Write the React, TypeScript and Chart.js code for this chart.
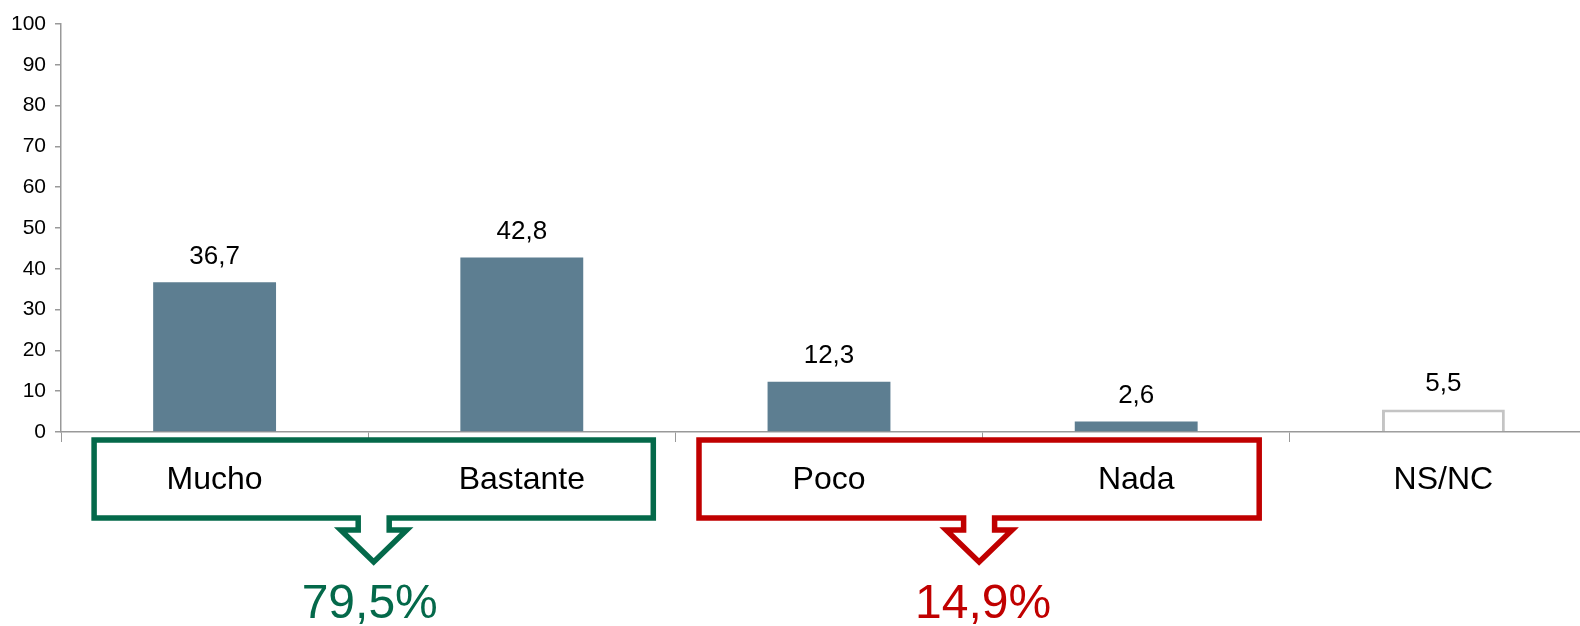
import React, { useEffect, useRef } from "react";
import { Chart, registerables } from "chart.js";

Chart.register(...registerables);

const categories: string[] = ["Mucho", "Bastante", "Poco", "Nada", "NS/NC"];
const values: number[] = [36.7, 42.8, 12.3, 2.6, 5.5];
const groupStart: number[] = [0, 2];
const groupEnd: number[] = [1, 3];
const groupTotals: number[] = [79.5, 14.9];

const FONT = "'Liberation Sans', Arial, sans-serif";
const BAR_COLOR = "#5D7E91";
const NSNC_FILL = "#FFFFFF";
const NSNC_BORDER = "#C4C4C4";
const AXIS_COLOR = "#999999";
const GROUP_COLORS = ["#04694A", "#C00000"];
// box offsets from the group's first / last category centre (stroke centre)
const GROUP_LEFT_OFF = [-120.5, -130];
const GROUP_RIGHT_OFF = [131.5, 123];
const GROUP_TEXT_OFF = [-4, 4];

const fmt = (v: number) => v.toFixed(1).replace(".", ",");

const W = 1600;
const H = 626;

export default function App() {
  const ref = useRef<HTMLCanvasElement | null>(null);

  useEffect(() => {
    if (!ref.current) return;

    const annotate = {
      id: "annotate",
      afterDraw(chart: any) {
        const ctx = chart.ctx as CanvasRenderingContext2D;
        const x = chart.scales.x;
        const area = chart.chartArea;
        const meta = chart.getDatasetMeta(0);
        ctx.save();
        // data labels
        ctx.fillStyle = "#000";
        ctx.textAlign = "center";
        ctx.textBaseline = "alphabetic";
        ctx.font = `26px ${FONT}`;
        meta.data.forEach((bar: any, i: number) => {
          ctx.fillText(fmt(values[i]), bar.x, bar.y - 18.5);
        });
        // category labels
        ctx.font = `32px ${FONT}`;
        categories.forEach((c, i) => {
          ctx.fillText(c, x.getPixelForValue(i), area.bottom + 57);
        });
        // group boxes with arrows
        groupStart.forEach((s, g) => {
          const left = x.getPixelForValue(s) + GROUP_LEFT_OFF[g];
          const right = x.getPixelForValue(groupEnd[g]) + GROUP_RIGHT_OFF[g];
          const top = area.bottom + 8;
          const bottom = area.bottom + 86;
          const cx = (left + right) / 2;
          const stemHalf = 15.5;
          const headHalf = 33;
          const stemBottom = bottom + 12;
          const tip = bottom + 44;
          ctx.beginPath();
          ctx.moveTo(left, top);
          ctx.lineTo(right, top);
          ctx.lineTo(right, bottom);
          ctx.lineTo(cx + stemHalf, bottom);
          ctx.lineTo(cx + stemHalf, stemBottom);
          ctx.lineTo(cx + headHalf, stemBottom);
          ctx.lineTo(cx, tip);
          ctx.lineTo(cx - headHalf, stemBottom);
          ctx.lineTo(cx - stemHalf, stemBottom);
          ctx.lineTo(cx - stemHalf, bottom);
          ctx.lineTo(left, bottom);
          ctx.closePath();
          ctx.lineWidth = 5.5;
          ctx.lineJoin = "miter";
          ctx.strokeStyle = GROUP_COLORS[g];
          ctx.stroke();
          ctx.fillStyle = GROUP_COLORS[g];
          ctx.font = `48px ${FONT}`;
          ctx.fillText(fmt(groupTotals[g]) + "%", cx + GROUP_TEXT_OFF[g], area.bottom + 186);
        });
        ctx.restore();
      },
    };

    const chart = new Chart(ref.current, {
      type: "bar",
      data: {
        labels: categories,
        datasets: [
          {
            data: values,
            backgroundColor: values.map((_, i) => (i === 4 ? NSNC_FILL : BAR_COLOR)),
            borderColor: values.map((_, i) => (i === 4 ? NSNC_BORDER : BAR_COLOR)),
            borderWidth: values.map((_, i) => (i === 4 ? 3 : 0)),
            categoryPercentage: 1,
            barPercentage: 0.4,
          },
        ],
      },
      options: {
        responsive: false,
        animation: false,
        devicePixelRatio: 1,
        layout: { padding: { top: 24, left: 0, right: 3, bottom: 0 } },
        plugins: {
          legend: { display: false },
          tooltip: { enabled: false },
          title: { display: false },
        },
        scales: {
          x: {
            type: "category",
            offset: true,
            grid: {
              offset: true,
              drawOnChartArea: false,
              drawTicks: true,
              tickLength: 10,
              color: AXIS_COLOR,
              lineWidth: 1,
            },
            border: { color: AXIS_COLOR, width: 1.5 },
            ticks: { display: false },
            afterFit: (scale: any) => {
              scale.height = H - 432;
            },
          },
          y: {
            min: 0,
            max: 100,
            ticks: {
              stepSize: 10,
              padding: 9,
              color: "#000",
              font: { family: FONT, size: 21 },
            },
            grid: {
              drawOnChartArea: false,
              drawTicks: true,
              tickLength: 6,
              color: AXIS_COLOR,
              lineWidth: 1.5,
            },
            border: { color: AXIS_COLOR, width: 1.5 },
            afterFit: (scale: any) => {
              scale.width = 61;
            },
          },
        },
      },
      plugins: [annotate],
    });

    return () => chart.destroy();
  }, []);

  return (
    <div
      style={{
        position: "fixed",
        left: 0,
        top: 0,
        width: 1580,
        height: 626,
        overflow: "hidden",
        background: "#fff",
      }}
    >
      <canvas ref={ref} width={W} height={H} style={{ width: W, height: H, display: "block" }} />
    </div>
  );
}
